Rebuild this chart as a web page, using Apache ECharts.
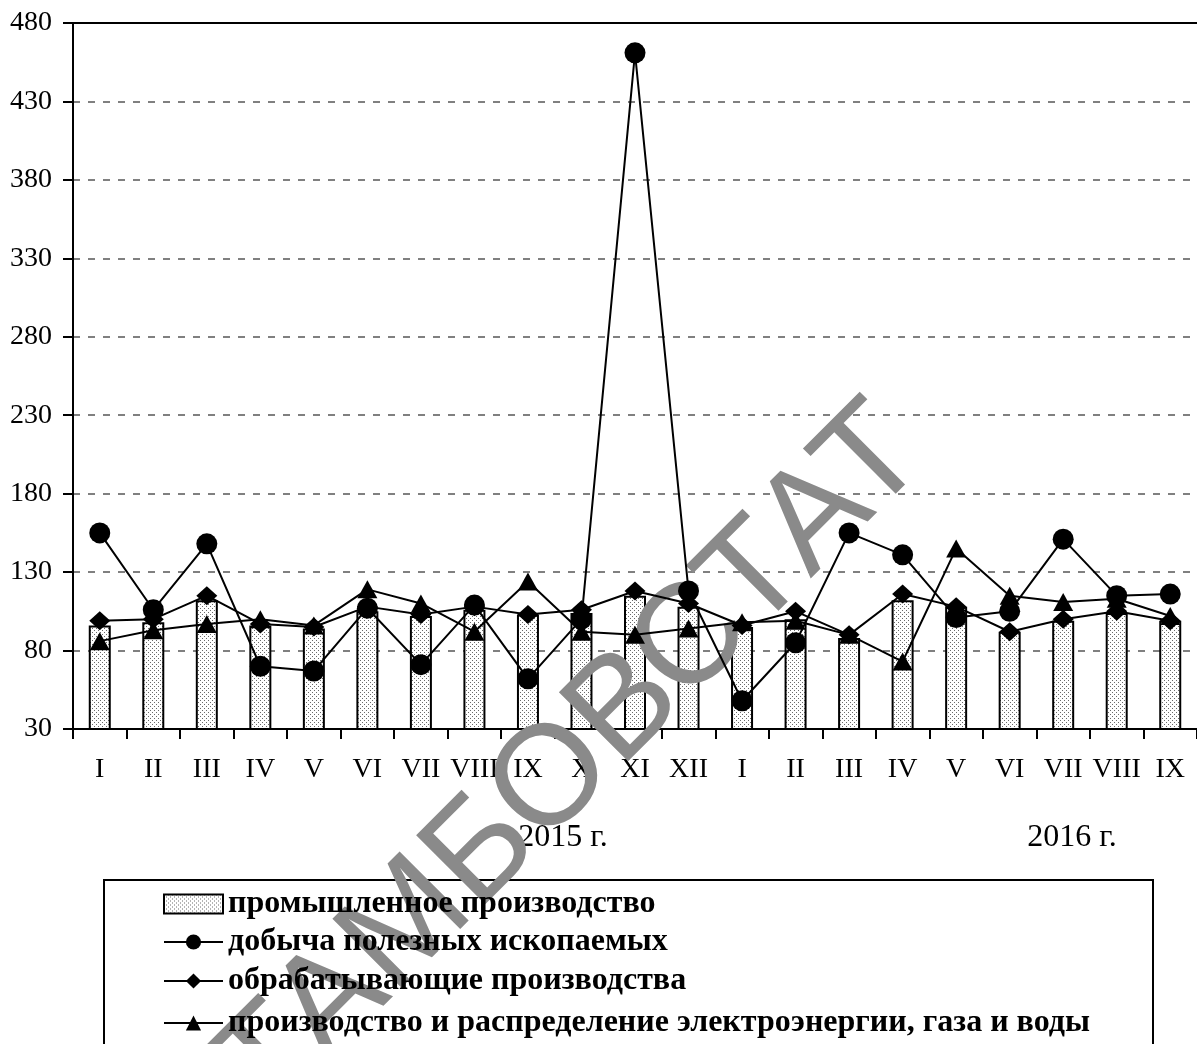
<!DOCTYPE html>
<html><head><meta charset="utf-8">
<script src="https://cdn.jsdelivr.net/npm/echarts@6/dist/echarts.min.js"></script>
<style>html,body{margin:0;padding:0;background:#fff}#c{width:1197px;height:1044px}</style>
</head><body><div id="c"></div>
<script>
const categories = ['I','II','III','IV','V','VI','VII','VIII','IX','X','XI','XII','I','II','III','IV','V','VI','VII','VIII','IX'];
const yearLabels = ['2015 г.', '2016 г.'];
const watermark = 'ТАМБОВСТАТ';
const seriesNames = ['промышленное производство', 'добыча полезных ископаемых', 'обрабатывающие производства', 'производство и распределение электроэнергии, газа и воды'];
const industry      = [96, 98, 112, 96, 94, 105, 102, 106, 103, 104, 115, 108, 95, 100, 88, 112, 108, 92, 99, 104, 99];
const mining        = [155, 106, 148, 70, 67, 107, 71, 109, 62, 100, 461, 118, 48, 85, 155, 141, 101, 105, 151, 115, 116];
const manufacturing = [99, 100, 115, 97, 95, 108, 103, 108, 103, 106, 118, 110, 96, 105, 90, 116, 108, 92, 100, 105, 99];
const utilities     = [86, 93, 97, 100, 96, 119, 110, 92, 124, 92, 90, 94, 98, 99, 90, 73, 145, 115, 111, 113, 102];
const yMin = 30, yMax = 480, yStep = 50;

const pc = document.createElement('canvas'); pc.width = 4; pc.height = 4;
const g = pc.getContext('2d');
g.fillStyle = '#fff'; g.fillRect(0, 0, 4, 4);
g.fillStyle = '#6a6a6a'; g.fillRect(0, 0, 1, 1); g.fillRect(2, 2, 1, 1);
const pattern = { image: pc, repeat: 'repeat' };

const serif = 'Liberation Serif, Times New Roman, serif';
const chart = echarts.init(document.getElementById('c'), null, { renderer: 'canvas' });

function lineSeries(name, data, symbol, size) {
  return {
    name, type: 'line', data, symbol, symbolSize: size,
    lineStyle: { color: '#000', width: 2 },
    itemStyle: { color: '#000' },
    emphasis: { disabled: true }, animation: false, z: 3
  };
}
const legendTops = [888, 926, 965, 1007];
function legendFor(i) {
  return {
    orient: 'vertical', left: 163, top: legendTops[i], padding: 0,
    itemWidth: 59, itemHeight: 19, itemGap: 0,
    textStyle: { fontFamily: serif, fontWeight: 'bold', fontSize: 32, color: '#000' },
    data: [i === 0 ? { name: seriesNames[0], icon: 'rect' } : seriesNames[i]],
    selectedMode: false
  };
}

chart.setOption({
  animation: false,
  backgroundColor: '#fff',
  grid: { left: 73, top: 23, width: 1128, height: 706 },
  xAxis: [{
    type: 'category', data: categories, boundaryGap: true,
    axisLine: { lineStyle: { color: '#000', width: 2 } },
    axisTick: { show: true, alignWithLabel: false, length: 10, lineStyle: { color: '#000', width: 2 } },
    axisLabel: { interval: 0, margin: 27, fontFamily: serif, fontSize: 28, color: '#000' },
    splitLine: { show: false }
  }, {
    type: 'category', data: categories, position: 'top',
    axisLine: { lineStyle: { color: '#000', width: 2 } },
    axisTick: { show: false }, axisLabel: { show: false }, splitLine: { show: false }
  }],
  yAxis: {
    type: 'value', min: yMin, max: yMax, interval: yStep,
    axisLine: { show: true, lineStyle: { color: '#000', width: 2 } },
    axisTick: { show: true, length: 10, lineStyle: { color: '#000', width: 2 } },
    axisLabel: { margin: 21, fontFamily: serif, fontSize: 28, color: '#000' },
    splitLine: { show: true, lineStyle: { color: '#808080', width: 2, type: [7, 8] } }
  },
  legend: [legendFor(0), legendFor(1), legendFor(2), legendFor(3)],
  graphic: [
    { type: 'rect', shape: { x: 104, y: 880, width: 1049, height: 200 }, style: { fill: 'none', stroke: '#000', lineWidth: 2 }, z: -1 },
    { type: 'text', x: 563, y: 838, style: { text: yearLabels[0], font: '32px ' + serif, fill: '#000', align: 'center', verticalAlign: 'middle' } },
    { type: 'text', x: 1072, y: 838, style: { text: yearLabels[1], font: '32px ' + serif, fill: '#000', align: 'center', verticalAlign: 'middle' } },
    { type: 'text', x: 572, y: 762, rotation: Math.PI / 4, z: 2,
      style: { text: watermark, font: '142px Liberation Sans, Arial, sans-serif', fill: '#8a8a8a', align: 'center', verticalAlign: 'middle' } }
  ],
  series: [
    {
      name: seriesNames[0], type: 'bar', data: industry, barWidth: 22,
      itemStyle: { color: pattern, borderColor: '#000', borderWidth: 2 },
      emphasis: { disabled: true }, z: 1
    },
    lineSeries(seriesNames[1], mining, 'circle', 21),
    lineSeries(seriesNames[2], manufacturing, 'diamond', [21, 19]),
    lineSeries(seriesNames[3], utilities, 'triangle', [20, 18])
  ]
});
</script>
</body></html>
